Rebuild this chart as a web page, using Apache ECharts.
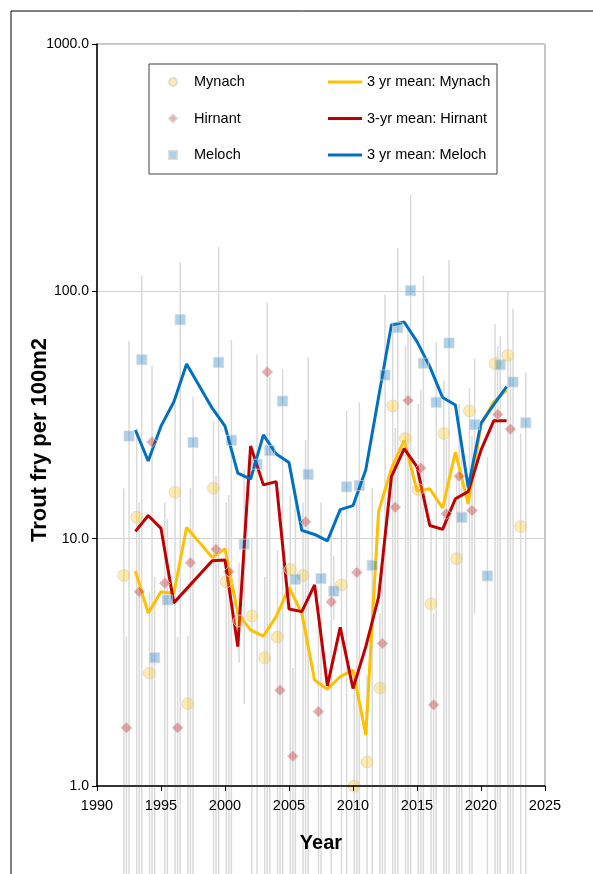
<!DOCTYPE html>
<html>
<head>
<meta charset="utf-8">
<script src="https://cdn.jsdelivr.net/npm/echarts@6/dist/echarts.min.js"></script>
<style>
  html, body { margin: 0; padding: 0; background: #fff; }
  #chart { width: 593px; height: 874px; }
</style>
</head>
<body>
<div id="chart"></div>
<script>
// sampled sites: yearly values (fry per 100m2), upper/lower error bar ends (null = below the axis)
var mynachYears = [1992, 1993, 1994, 1996, 1997, 1999, 2000, 2001, 2002, 2003, 2004, 2005, 2006, 2009, 2010, 2011, 2012, 2013, 2014, 2015, 2016, 2017, 2018, 2019, 2021, 2022, 2023]
var mynachVals = [7.1, 12.2, 2.86, 15.4, 2.15, 16.0, 6.7, 4.65, 4.87, 3.3, 4.0, 7.5, 7.1, 6.5, 1.0, 1.25, 2.49, 34.4, 25.4, 15.8, 5.45, 26.6, 8.3, 32.8, 51, 55, 11.2]
var mynachHi = [16, 28, 6, 35, 4.05, 30, 14, 8, 10, 7, 9, 15, 14, 13, 2.5, 2.8, 5, 70, 60, 35, 12, 43.7, 18, 40.6, 73.8, 100, 26.7]
var mynachLo = [null, null, null, null, null, null, null, 3.15, null, null, null, null, null, null, null, null, null, null, null, null, null, null, null, null, null, null, null]

var hirnantYears = [1992, 1993, 1994, 1995, 1996, 1997, 1999, 2000, 2003, 2004, 2005, 2006, 2007, 2008, 2010, 2012, 2013, 2014, 2015, 2016, 2017, 2018, 2019, 2021, 2022]
var hirnantVals = [1.72, 6.1, 24.6, 6.6, 1.72, 8.0, 9.06, 7.35, 47.2, 2.44, 1.32, 11.7, 2.0, 5.55, 7.3, 3.77, 13.4, 36.2, 19.3, 2.13, 12.6, 17.9, 13.0, 31.8, 27.7]
var hirnantHi = [4, 14, 50, 14, 4, 16, 18, 15, 90, 5, 3, 25, 4.5, 11, 15, 8, 28, 70, 40, 5, 25, 35, 26, 60, 54]
var hirnantLo = [null, null, null, null, null, null, null, null, null, null, null, null, null, null, null, null, null, null, null, null, null, null, null, null, null]

var melochYears = [1992, 1993, 1994, 1995, 1996, 1997, 1999, 2000, 2001, 2002, 2003, 2004, 2005, 2006, 2007, 2008, 2009, 2010, 2011, 2012, 2013, 2014, 2015, 2016, 2017, 2018, 2019, 2020, 2021, 2022, 2023]
var melochVals = [26, 52.9, 3.3, 5.65, 76.8, 24.5, 51.6, 25, 9.5, 20, 22.7, 36, 6.85, 18.2, 6.9, 6.14, 16.2, 16.4, 7.8, 45.9, 71.3, 100.7, 51.2, 35.6, 61.8, 12.2, 28.9, 7.07, 50.5, 43, 29.4]
var melochHi = [63, 116, 7, 12, 131, 37.5, 151, 63.6, 19, 55.8, 45, 48.5, 14, 54, 14, 8.5, 33, 35.5, 16, 97, 150, 245, 116, 62.4, 134, 25, 53.5, 21.4, 65.8, 85, 47]
var melochLo = [null, null, null, null, null, null, null, null, 2.14, null, null, null, null, null, null, 4.7, null, null, null, null, null, null, null, null, null, null, 4.98, null, null, null, null]

// 3 year running means
var meanYears = [1993, 1994, 1995, 1996, 1997, 1999, 2000, 2001, 2002, 2003, 2004, 2005, 2006, 2007, 2008, 2009, 2010, 2011, 2012, 2013, 2014, 2015, 2016, 2017, 2018, 2019, 2020, 2021, 2022]
var mynachMean = [7.4, 5.0, 6.1, 6.0, 11.1, 8.4, 9.1, 5.0, 4.27, 4.04, 4.84, 6.36, 5.0, 2.68, 2.46, 2.77, 2.94, 1.61, 12.9, 19.2, 25, 15.6, 15.9, 13.3, 22.4, 13.8, 28.8, 35.8, 39.9]
var hirnantMean = [10.7, 12.4, 11.0, 5.5, null, 8.15, 8.2, 3.66, 23.7, 16.5, 17.0, 5.2, 5.07, 6.5, 2.54, 4.38, 2.48, 3.66, 5.8, 17.8, 23.1, 19.5, 11.3, 10.9, 14.5, 15.5, 22.8, 30, 30]
var melochMean = [27.5, 20.6, 28.5, 35.7, 50.8, 33.7, 28.5, 18.4, 17.4, 26.3, 22, 20.3, 10.8, 10.4, 9.8, 13.1, 13.6, 19, 37.4, 73.1, 75.2, 62.6, 49.6, 37.2, 34.7, 16.1, 29.3, 34.8, 41.2]

var yTicks = [1, 10, 100, 1000]

// small sideways shift of each site's points so they do not sit on top of each other
var shift = { mynach: 0.1, hirnant: 0.3, meloch: 0.5 }

var font = 'Liberation Sans, Arial, sans-serif'

function pts (years, vals, dx) {
  var out = []
  for (var i = 0; i < years.length; i++) {
    if (vals[i] == null) continue
    out.push([years[i] + dx, vals[i]])
  }
  return out
}

function bars (years, lo, hi, dx) {
  var out = []
  for (var i = 0; i < years.length; i++) {
    out.push([years[i] + dx, lo[i] == null ? 0.0001 : lo[i], hi[i]])
  }
  return out
}

function errSeries (name, data) {
  return {
    name: name,
    type: 'custom',
    z: 1,
    clip: false,
    silent: true,
    data: data,
    renderItem: function (params, api) {
      var a = api.coord([api.value(0), api.value(2)])
      var b = api.coord([api.value(0), api.value(1)])
      return {
        type: 'line',
        shape: { x1: a[0], y1: a[1], x2: b[0], y2: b[1] },
        style: { stroke: '#dadada', lineWidth: 1.5 }
      }
    }
  }
}

function meanSeries (name, vals, color) {
  return {
    name: name,
    type: 'line',
    z: 2,
    data: pts(meanYears, vals, 0),
    symbol: 'none',
    lineStyle: { color: color, width: 3 },
    itemStyle: { color: color }
  }
}

function dotSeries (name, data, symbol, size, color) {
  return {
    name: name,
    type: 'scatter',
    z: 3,
    data: data,
    symbol: symbol,
    symbolSize: size,
    itemStyle: { color: color, borderColor: 'rgba(210,210,210,0.9)', borderWidth: 1 }
  }
}

var legendText = { fontFamily: font, fontSize: 14.5, color: '#000', lineHeight: 16 }

var chart = echarts.init(document.getElementById('chart'))
var option = {
  animation: false,
  backgroundColor: '#fff',
  grid: { left: 97, right: 48, top: 44, bottom: 88, show: true, borderColor: '#8c8c8c', borderWidth: 1 },
  legend: [
    {
      left: 163, top: 69, orient: 'vertical', itemGap: 20.5,
      itemWidth: 8, itemHeight: 8,
      textStyle: Object.assign({ padding: [0, 0, 0, 12] }, legendText),
      data: [
        { name: 'Mynach', icon: 'circle' },
        { name: 'Hirnant', icon: 'diamond' },
        { name: 'Meloch', icon: 'rect' }
      ]
    },
    {
      left: 323, top: 69, orient: 'vertical', itemGap: 20.5,
      itemWidth: 34, itemHeight: 3, icon: 'rect',
      textStyle: legendText,
      data: ['3 yr mean: Mynach', '3-yr mean: Hirnant', '3 yr mean: Meloch']
    }
  ],
  graphic: [
    { type: 'rect', shape: { x: 11, y: 11, width: 700, height: 1000 }, style: { fill: 'none', stroke: '#000', lineWidth: 1 }, z: 0 },
    { type: 'rect', shape: { x: 149, y: 64, width: 348, height: 110 }, style: { fill: 'none', stroke: '#404040', lineWidth: 1 }, z: 10 },
    {
      type: 'text', x: 40, y: 440, rotation: Math.PI / 2, z: 10,
      style: { text: 'Trout fry per 100m2', font: 'bold 22px ' + font, fill: '#000', align: 'center', verticalAlign: 'middle' }
    }
  ],
  xAxis: {
    type: 'value', min: 1990, max: 2025, interval: 5, z: 10,
    name: 'Year', nameLocation: 'middle', nameGap: 47,
    nameTextStyle: { fontFamily: font, fontSize: 20, fontWeight: 'bold', color: '#000' },
    axisLine: { show: true, lineStyle: { color: '#000', width: 1.5 } },
    axisTick: { show: true, length: 5, lineStyle: { color: '#000' } },
    axisLabel: { fontFamily: font, fontSize: 14.5, color: '#000', margin: 12, formatter: function (v) { return String(v) } },
    splitLine: { show: false }
  },
  yAxis: {
    type: 'log', logBase: 10, min: 1, max: 1000,
    axisLine: { show: true, lineStyle: { color: '#000', width: 1.5 } },
    axisTick: { show: true, length: 5, lineStyle: { color: '#000' } },
    axisLabel: {
      fontFamily: font, fontSize: 14, color: '#000', margin: 8,
      formatter: function (v) { return yTicks.indexOf(Math.round(v)) >= 0 ? v.toFixed(1) : '' }
    },
    splitLine: { show: true, lineStyle: { color: '#d0d0d0', width: 1 } },
    minorTick: { show: false }
  },
  series: [
    errSeries('errMynach', bars(mynachYears, mynachLo, mynachHi, shift.mynach)),
    errSeries('errHirnant', bars(hirnantYears, hirnantLo, hirnantHi, shift.hirnant)),
    errSeries('errMeloch', bars(melochYears, melochLo, melochHi, shift.meloch)),
    meanSeries('3 yr mean: Mynach', mynachMean, '#ffc000'),
    meanSeries('3-yr mean: Hirnant', hirnantMean, '#c00000'),
    meanSeries('3 yr mean: Meloch', melochMean, '#0070c0'),
    dotSeries('Mynach', pts(mynachYears, mynachVals, shift.mynach), 'circle', 12, 'rgba(255,192,0,0.4)'),
    dotSeries('Hirnant', pts(hirnantYears, hirnantVals, shift.hirnant), 'diamond', 11, 'rgba(192,0,0,0.4)'),
    dotSeries('Meloch', pts(melochYears, melochVals, shift.meloch), 'rect', 10, 'rgba(0,112,192,0.4)')
  ]
}
chart.setOption(option)
</script>
</body>
</html>
